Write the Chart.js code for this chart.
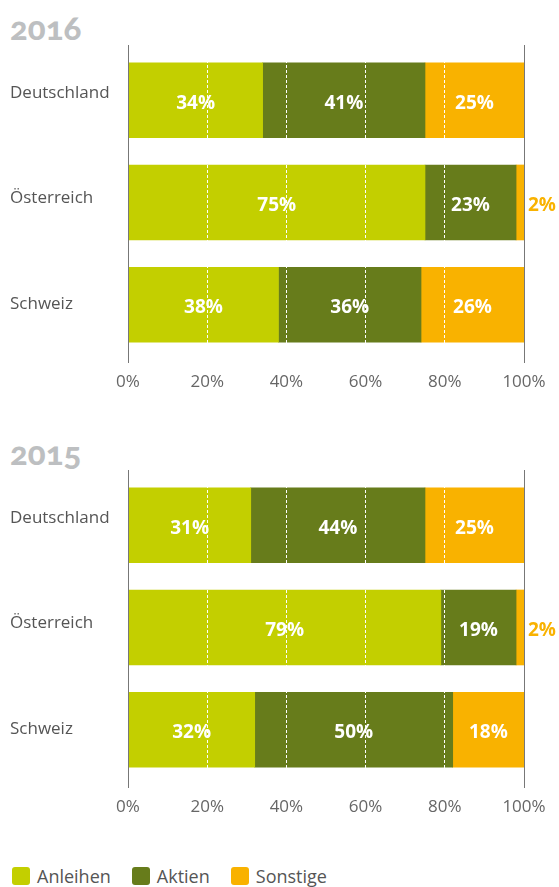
<!DOCTYPE html>
<html lang="de">
<head>
<meta charset="utf-8">
<title>Anlagestruktur 2016 / 2015</title>
<script src="https://cdn.jsdelivr.net/npm/chart.js@4.4.1/dist/chart.umd.min.js"></script>
<style>
  body { margin: 0; background: #fff; font-family: "Open Sans", sans-serif; }
  #page { position: relative; width: 559px; height: 887px; overflow: hidden; }
  .year { position: absolute; left: 10px; font-family: Lato, sans-serif; font-weight: 900;
          font-size: 33px; line-height: 36px; color: #bdbfc1; font-variant-numeric: oldstyle-nums; }
  canvas { position: absolute; left: 0; }
  #legend { position: absolute; left: 12px; top: 864px; display: flex; align-items: center;
            font-size: 18px; color: #555; }
  .item { display: flex; align-items: center; margin-right: 21px; }
  .swatch { width: 18px; height: 18px; border-radius: 3px; margin-right: 7px; }
</style>
</head>
<body>
<div id="page">
  <div class="year" style="top:9px">2016</div>
  <canvas id="chart2016" width="559" height="350" style="top:45px"></canvas>
  <div class="year" style="top:434px">2015</div>
  <canvas id="chart2015" width="559" height="350" style="top:470px"></canvas>
  <div id="legend"></div>
</div>
<script>
// ===== Daten =====
const categories = ["Deutschland", "Österreich", "Schweiz"];
const seriesNames = ["Anleihen", "Aktien", "Sonstige"];
const seriesColors = ["#c3cf00", "#677c1b", "#f9b200"];

const anleihen2016 = [34, 75, 38];
const aktien2016 = [41, 23, 36];
const sonstige2016 = [25, 2, 26];

const anleihen2015 = [31, 79, 32];
const aktien2015 = [44, 19, 50];
const sonstige2015 = [25, 2, 18];

const xTicks = [0, 20, 40, 60, 80, 100];

Chart.defaults.font.family = "'Open Sans', sans-serif";

// Prozentwerte in/neben den Balken
const barLabels = {
  id: "barLabels",
  afterDraw(chart) {
    const ctx = chart.ctx;
    ctx.save();
    ctx.font = "bold 19px 'Open Sans'";
    ctx.textBaseline = "middle";
    chart.data.datasets.forEach((ds, i) => {
      chart.getDatasetMeta(i).data.forEach((bar, j) => {
        const v = ds.data[j].x;
        if (v < 5) {
          ctx.fillStyle = ds.backgroundColor;
          ctx.textAlign = "left";
          ctx.fillText(v + "%", bar.x + 4, bar.y + 3);
        } else {
          ctx.fillStyle = "#fff";
          ctx.textAlign = "center";
          ctx.fillText(v + "%", (bar.base + bar.x) / 2, bar.y + 3);
        }
      });
    });
    ctx.restore();
  }
};

function makeChart(id, values) {
  new Chart(document.getElementById(id), {
    type: "bar",
    data: {
      labels: categories,
      datasets: seriesNames.map((name, i) => ({
        label: name,
        data: values[i].map((v, j) => ({ x: v, y: j })),
        backgroundColor: seriesColors[i],
        borderWidth: 0,
        barThickness: 75,
        xAxisID: "x",
        yAxisID: "yBars"
      }))
    },
    options: {
      indexAxis: "y",
      responsive: false,
      animation: false,
      layout: { padding: { left: 10, right: 35, top: 0, bottom: 0 } },
      plugins: { legend: { display: false }, tooltip: { enabled: false } },
      scales: {
        x: {
          stacked: true,
          min: 0,
          max: 100,
          afterBuildTicks: s => { s.ticks = xTicks.map(v => ({ value: v })); },
          grid: {
            z: 1,
            drawTicks: false,
            color: c => (c.tick && (c.tick.value === 0 || c.tick.value === 100)) ? "rgba(0,0,0,0)" : "#fff"
          },
          border: { display: false, dash: [3, 2] },
          ticks: { color: "#666", font: { size: 17 }, padding: 10, callback: v => v + "%" },
          afterFit: s => { s.height = 33; s.paddingLeft = 0; s.paddingRight = 0; }
        },
        y: {
          type: "category",
          grid: { display: false },
          border: { color: "#777", z: 2 },
          ticks: { crossAlign: "far", color: "#555", font: { size: 17 }, labelOffset: -5, padding: 0 },
          afterFit: s => { s.width = 118; s.paddingTop = 0; s.paddingBottom = 0; }
        },
        yBars: {
          type: "linear",
          display: false,
          offset: false,
          stacked: true,
          reverse: true,
          min: -0.54,
          max: 2.56
        },
        yRight: {
          type: "category",
          position: "right",
          grid: { display: false },
          ticks: { display: false },
          border: { color: "#777", z: 2 },
          afterFit: s => { s.width = 0; s.paddingTop = 0; s.paddingBottom = 0; }
        }
      }
    },
    plugins: [barLabels]
  });
}

makeChart("chart2016", [anleihen2016, aktien2016, sonstige2016]);
makeChart("chart2015", [anleihen2015, aktien2015, sonstige2015]);

// ===== Legende =====
const legend = document.getElementById("legend");
seriesNames.forEach((name, i) => {
  const item = document.createElement("div");
  item.className = "item";
  item.innerHTML = `<span class="swatch" style="background:${seriesColors[i]}"></span><span>${name}</span>`;
  legend.appendChild(item);
});
</script>
</body>
</html>
